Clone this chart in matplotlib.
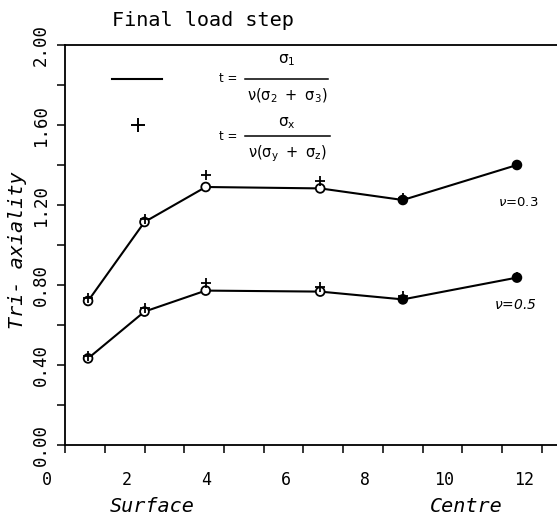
import matplotlib.pyplot as plt
import matplotlib.transforms as mtransforms
from matplotlib.lines import Line2D
from matplotlib.ticker import MultipleLocator, FormatStrFormatter

# element position through the thickness (surface -> centre)
position = [0.58, 2.0, 3.54, 6.42, 8.5, 11.37]

# t = s1 / v(s2 + s3)  (line + circles)
t_nu03 = [0.72, 1.115, 1.29, 1.283, 1.225, 1.40]
t_nu05 = [0.433, 0.667, 0.772, 0.767, 0.728, 0.837]

# t = sx / v(sy + sz)  (plus marks)
tx_nu03 = [0.735, 1.13, 1.35, 1.32, 1.235, 1.40]
tx_nu05 = [0.445, 0.685, 0.81, 0.79, 0.745, 0.84]

W, H = 557, 516
MONO = "DejaVu Sans Mono"
plt.rcParams["mathtext.fontset"] = "dejavusans"


def fx(x):
    return x / W


def fy(y):
    return 1 - y / H


fig = plt.figure(figsize=(W / 100, H / 100), dpi=100)
ax = fig.add_axes([fx(65), fy(445), 1 - fx(65), 400 / H])

ax.set_xlim(0, (W - 65) / 39.75)
ax.set_ylim(0, 2.0)

for t, tx in [(t_nu03, tx_nu03), (t_nu05, tx_nu05)]:
    ax.plot(position, t, color="black", lw=1.5, zorder=2)
    faces = ["white"] * 4 + ["black"] * 2
    ax.scatter(position, t, s=40, facecolors=faces, edgecolors="black",
               linewidths=1.3, zorder=3)
    ax.plot(position, tx, "+", color="black", ms=6.5, mew=1.3, zorder=4)

# axes styling
ax.spines["right"].set_visible(False)
for s in ax.spines.values():
    s.set_linewidth(1.3)

ax.xaxis.set_major_locator(MultipleLocator(2))
ax.xaxis.set_minor_locator(MultipleLocator(1))
ax.yaxis.set_major_locator(MultipleLocator(0.4))
ax.yaxis.set_minor_locator(MultipleLocator(0.2))
ax.yaxis.set_major_formatter(FormatStrFormatter("%.2f"))
ax.tick_params(which="both", direction="out", length=6, width=1.1)
ax.tick_params(axis="x", pad=13, labelsize=12)
ax.tick_params(axis="y", pad=5, labelsize=12.5, labelrotation=90)

for lbl in ax.get_xticklabels():
    lbl.set_family(MONO)
    lbl.set_transform(lbl.get_transform() +
                      mtransforms.ScaledTranslation(-18 / 100, 0, fig.dpi_scale_trans))
for lbl in ax.get_yticklabels():
    lbl.set_family(MONO)
    lbl.set_va("center")

# texts
fig.text(fx(203), fy(21), "Final load step", family=MONO, fontsize=14.5,
         ha="center", va="center")
fig.text(fx(18), fy(250), "Tri- axiality", family=MONO, style="italic",
         fontsize=14.5, rotation=90, ha="center", va="center")
fig.text(fx(152), fy(507), "Surface", family=MONO, style="italic",
         fontsize=14.5, ha="center", va="center")
fig.text(fx(466), fy(507), "Centre", family=MONO, style="italic",
         fontsize=14.5, ha="center", va="center")

fig.text(fx(518), fy(203), r"$\nu$=0.3", fontsize=9.5, ha="center", va="center")
fig.text(fx(515), fy(305), r"$\nu$=0.5", fontsize=10, style="italic",
         ha="center", va="center")

# legend
fig.add_artist(Line2D([fx(112), fx(162)], [fy(79), fy(79)], color="black", lw=1.5))
fig.add_artist(Line2D([fx(138)], [fy(125)], marker="+", color="black", ms=10, mew=1.4))

fig.text(fx(228), fy(79), "t =", fontsize=8.5, ha="center", va="center")
fig.add_artist(Line2D([fx(245), fx(328)], [fy(79), fy(79)], color="black", lw=1.1))
fig.text(fx(287), fy(60), r"$\mathrm{\sigma}_1$", fontsize=11, ha="center", va="center")
fig.text(fx(287), fy(96), r"$\mathrm{\nu(\sigma_2\ +\ \sigma_3)}$", fontsize=10.5,
         ha="center", va="center")

fig.text(fx(228), fy(137), "t =", fontsize=8.5, ha="center", va="center")
fig.add_artist(Line2D([fx(245), fx(330)], [fy(136), fy(136)], color="black", lw=1.1))
fig.text(fx(287), fy(123), r"$\mathrm{\sigma_x}$", fontsize=11, ha="center", va="center")
fig.text(fx(287), fy(154), r"$\mathrm{\nu(\sigma_y\ +\ \sigma_z)}$", fontsize=10.5,
         ha="center", va="center")

fig.savefig("out.png", dpi=100)
